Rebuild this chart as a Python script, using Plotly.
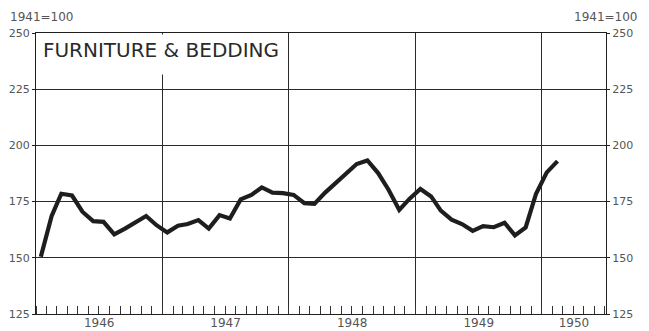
import plotly.graph_objects as go
import pandas as pd

# Monthly index values (1941=100), Jan 1946 - Feb 1950
values_1946 = [150.5, 168.5, 178.5, 177.7, 170.5, 166.3, 166.0, 160.4, 163.0, 165.6, 168.6, 164.5]
values_1947 = [161.3, 164.3, 165.0, 166.8, 163.0, 169.0, 167.5, 176.0, 178.0, 181.3, 179.0, 178.8]
values_1948 = [178.0, 174.3, 174.0, 179.0, 183.3, 187.7, 191.7, 193.3, 187.7, 180.3, 171.3, 176.3]
values_1949 = [180.6, 177.3, 171.0, 167.0, 165.0, 162.0, 164.1, 163.6, 165.6, 160.0, 163.5, 178.5]
values_1950 = [188.0, 193.0]

years = [1946, 1947, 1948, 1949, 1950]
year_labels = ["1946", "1947", "1948", "1949", "1950"]

values = values_1946 + values_1947 + values_1948 + values_1949 + values_1950
months = pd.date_range("1946-01-01", periods=len(values), freq="MS") + pd.Timedelta(days=14)

title_text = "FURNITURE & BEDDING"
base_label = "1941=100"
y_ticks = [125, 150, 175, 200, 225, 250]

x_start, x_end = pd.Timestamp("1946-01-01"), pd.Timestamp("1950-07-05")
year_starts = [pd.Timestamp(f"{y}-01-01") for y in years]
# label positions: middle of each year's visible span
label_pos = []
for y in years:
    a = max(pd.Timestamp(f"{y}-01-01"), x_start)
    b = min(pd.Timestamp(f"{y + 1}-01-01"), x_end)
    label_pos.append(a + (b - a) / 2)

ink = "#1e1e1e"
label_col = "#555555"
font_fam = "DejaVu Sans"

fig = go.Figure()
fig.add_trace(go.Scatter(x=months, y=values, mode="lines",
                         line=dict(color=ink, width=4.2), showlegend=False,
                         hoverinfo="skip"))
# invisible carriers for the secondary axes
fig.add_trace(go.Scatter(x=[months[0]], y=[values[0]], yaxis="y2", mode="markers",
                         marker=dict(opacity=0), showlegend=False, hoverinfo="skip"))
fig.add_trace(go.Scatter(x=[months[0]], y=[values[0]], xaxis="x2", mode="markers",
                         marker=dict(opacity=0), showlegend=False, hoverinfo="skip"))

# the page body adds an 8px offset, so the figure is sized to fit the window
fig.update_layout(
    width=641, height=323,
    margin=dict(l=28, r=43, t=25, b=17),
    paper_bgcolor="white", plot_bgcolor="white",
    font=dict(family=font_fam, color=label_col),
    xaxis=dict(
        type="date", range=[x_start, x_end], automargin=False,
        tickvals=year_starts, showticklabels=False, ticks="", showgrid=True,
        gridcolor="#2a2a2a", gridwidth=1,
        showline=True, mirror=True, linecolor=ink, linewidth=1.3,
        minor=dict(dtick="M1", tick0="1946-01-01", ticks="inside", ticklen=8,
                   tickcolor="#333333", tickwidth=1, showgrid=False),
        zeroline=False,
    ),
    xaxis2=dict(
        type="date", range=[x_start, x_end], overlaying="x", side="bottom",
        anchor="y", automargin=False,
        tickvals=label_pos, ticktext=year_labels, ticks="", showgrid=False,
        showline=False, zeroline=False,
        tickfont=dict(size=12, color=label_col), ticklabelstandoff=0,
    ),
    yaxis=dict(
        range=[125, 250], tickvals=y_ticks, ticks="outside", ticklen=3,
        automargin=False,
        tickcolor=ink, showgrid=True, gridcolor="#2a2a2a", gridwidth=1.2,
        showline=True, mirror=True, linecolor=ink, linewidth=1.3,
        tickfont=dict(size=11, color=label_col), zeroline=False,
        ticklabelstandoff=0,
    ),
    yaxis2=dict(
        range=[125, 250], tickvals=y_ticks, overlaying="y", side="right",
        automargin=False,
        ticks="outside", ticklen=3, tickcolor=ink, showgrid=False,
        tickfont=dict(size=11, color=label_col), zeroline=False,
        ticklabelstandoff=0,
    ),
    annotations=[
        dict(text=title_text, xref="paper", yref="paper", x=0.002, y=0.996,
             xanchor="left", yanchor="top", showarrow=False,
             width=240, height=33, align="center", valign="top",
             bgcolor="white", borderpad=3,
             font=dict(size=20, color="#2a2a2a", family=font_fam)),
        dict(text=base_label, xref="paper", yref="paper", x=-0.049, y=1.09,
             xanchor="left", yanchor="top", showarrow=False,
             font=dict(size=12, color=label_col, family=font_fam)),
        dict(text=base_label, xref="paper", yref="paper", x=1.06, y=1.09,
             xanchor="right", yanchor="top", showarrow=False,
             font=dict(size=12, color=label_col, family=font_fam)),
    ],
)

fig.write_html("out.html")
